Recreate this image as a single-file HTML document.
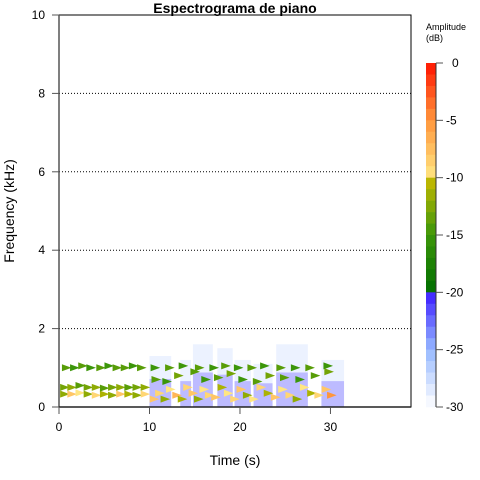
<!DOCTYPE html>
<html><head><meta charset="utf-8"><style>
body{margin:0;background:#fff}
svg{display:block;font-family:"Liberation Sans",sans-serif}
</style></head><body>
<svg id="c" width="480" height="480" viewBox="0 0 480 480">
<text x="235" y="13" text-anchor="middle" font-weight="bold" font-size="14">Espectrograma de piano</text>
<g id="grid"></g>
<g id="marks"></g>
<g id="axes"></g>
<text x="235" y="465" text-anchor="middle" font-size="14">Time (s)</text>
<text transform="translate(14,211) rotate(-90)" text-anchor="middle" font-size="14">Frequency (kHz)</text>
<text x="426" y="30" font-size="9">Amplitude</text>
<text x="426" y="41" font-size="9">(dB)</text>
<g id="cbar"></g>
</svg>
<script>
const xTicks=[0,10,20,30];
const yTicks=[0,2,4,6,8,10];
const cbTicks=[0,-5,-10,-15,-20,-25,-30];
// notes: onset time (s), frequency (kHz), amplitude (dB)
const noteTimes=[0.3,1.1,2.0,2.9,3.8,4.7,5.6,6.5,7.4,8.3,9.2, 0.3,1.1,2.0,2.9,3.8,4.7,5.6,6.5,7.4,8.3,9.2, 0.5,1.4,2.3,3.2,4.3,5.2,6.1,7.0,7.9,8.8, 10.2,10.8,11.4,12.0,12.7,13.3,13.9,14.5,15.1,15.7,16.3,17.0,17.7,18.4,19.1,19.8,20.5,21.2,22.0,22.8,23.6,24.4,25.2,26.0,26.8,27.6,28.4,29.2,29.8, 10.4,11.6,12.9,14.7,15.9,17.3,18.7,20.0,21.6,23.0,24.6,26.3,28.0,29.5, 10.3,11.9,13.4,15.2,16.8,18.1,19.5,21.0,22.4,24.2,25.8,27.4,29.4];
const noteFreqs=[0.33,0.33,0.36,0.33,0.3,0.33,0.3,0.33,0.33,0.3,0.33, 0.5,0.5,0.55,0.5,0.5,0.48,0.5,0.5,0.5,0.5,0.5, 1.0,1.0,1.05,1.0,1.0,1.05,1.0,1.0,1.05,1.0, 0.2,0.35,0.2,0.45,0.3,0.2,0.5,0.35,0.2,0.45,0.3,0.25,0.5,0.35,0.2,0.45,0.3,0.2,0.5,0.35,0.25,0.45,0.3,0.2,0.5,0.35,0.3,0.45,0.3, 0.7,0.65,0.8,0.9,0.7,0.75,0.85,0.7,0.65,0.8,0.75,0.7,0.8,0.9, 1.0,1.0,1.05,1.0,1.0,1.05,1.0,1.0,1.05,1.0,1.0,1.0,1.05];
const noteDb=[-12,-8,-10,-12,-9,-11,-12,-8,-11,-12,-9, -13,-12,-14,-13,-12,-14,-13,-12,-14,-13,-12, -14,-15,-14,-15,-14,-15,-14,-14,-15,-14, -8,-9,-12,-10,-7,-11,-9,-8,-12,-10,-9,-8,-11,-10,-9,-8,-12,-10,-9,-11,-8,-10,-9,-12,-10,-11,-9,-8,-5, -14,-15,-13,-14,-15,-14,-13,-15,-14,-13,-14,-15,-14,-13, -15,-14,-15,-14,-15,-14,-15,-14,-15,-14,-15,-14,-15];
// noisy background bursts: start (s), end (s), top frequency (kHz)
const burstStart=[10.0,13.4,14.8,17.5,19.4,21.5,24.0,29.0];
const burstEnd=[12.4,14.6,17.0,19.2,21.2,23.6,27.5,31.5];
const burstTop=[1.3,1.2,1.6,1.5,1.2,1.1,1.6,1.2];

const NS='http://www.w3.org/2000/svg';
const X0=59,X1=411,Y0=407,Y1=15,T0=0,T1=38.9;
const xs=t=>X0+(t-T0)/(T1-T0)*(X1-X0);
const ys=f=>Y0-f/10*(Y0-Y1);
const CB0=63,CB1=407;
const cy=d=>CB0+(-d)/30*(CB1-CB0);
function mk(tag,attrs,parent){const e=document.createElementNS(NS,tag);for(const k in attrs)e.setAttribute(k,attrs[k]);parent.appendChild(e);return e;}
function lerp(a,b,t){return a.map((v,i)=>Math.round(v+(b[i]-v)*t));}
function color(d){
  const stops=[[-30,[255,255,255]],[-25,[150,185,255]],[-20.01,[60,30,255]],[-20,[0,110,0]],[-15,[60,150,10]],[-10.01,[200,185,0]],[-10,[255,230,130]],[-5,[255,150,60]],[0,[255,20,0]]];
  for(let i=0;i<stops.length-1;i++){if(d<=stops[i+1][0]){const t=(d-stops[i][0])/(stops[i+1][0]-stops[i][0]);return 'rgb('+lerp(stops[i][1],stops[i+1][1],Math.max(0,Math.min(1,t))).join(',')+')';}}
  return 'rgb(255,20,0)';
}
const grid=document.getElementById('grid'),marks=document.getElementById('marks'),axes=document.getElementById('axes'),cbar=document.getElementById('cbar');
yTicks.filter(v=>v>0&&v<10).forEach(v=>{const l=mk('line',{x1:X0,x2:X1,y1:ys(v),y2:ys(v),stroke:'#000','stroke-dasharray':'1,2','stroke-width':1},grid);

});
burstStart.forEach((s,i)=>{
  const r=mk('rect',{x:xs(s),y:ys(burstTop[i]),width:xs(burstEnd[i])-xs(s),height:Y0-ys(burstTop[i]),fill:color(-27),opacity:0.3},marks);
  
  
  const r2=mk('rect',{x:xs(s),y:ys(burstTop[i]*0.55),width:xs(burstEnd[i])-xs(s),height:Y0-ys(burstTop[i]*0.55),fill:color(-21),opacity:0.3},marks);
  
  
});
noteTimes.forEach((t,i)=>{
  const x=xs(t),y=ys(noteFreqs[i]),d=noteDb[i];
  const g=mk('g',{},marks);
  
  
  const layers=[[-22,1.0],[-17,0.7],[d,0.4]];
  layers.forEach(([dd,s])=>{
    const w=8*s,h=3.5*s;
    mk('polygon',{points:`${x-w*0.2},${y-h} ${x+w},${y} ${x-w*0.2},${y+h}`,fill:color(Math.max(dd,d))},g);
  });
});
mk('rect',{x:X0,y:Y1,width:X1-X0,height:Y0-Y1,fill:'none',stroke:'#000','stroke-width':1},axes);
mk('line',{x1:X0,x2:X0,y1:Y1,y2:Y0,stroke:'#555','stroke-width':1.5},axes);
mk('line',{x1:X0,x2:X1,y1:Y0,y2:Y0,stroke:'#222','stroke-width':1.5},axes);
yTicks.forEach(v=>{mk('line',{x1:X0-7,x2:X0,y1:ys(v),y2:ys(v),stroke:'#555'},axes);
 const tx=mk('text',{x:X0-14,y:ys(v)+4,'text-anchor':'end','font-size':12},axes);tx.textContent=v;
 
 });
xTicks.forEach(v=>{mk('line',{x1:xs(v),x2:xs(v),y1:Y0,y2:Y0+7,stroke:'#555'},axes);
 const tx=mk('text',{x:xs(v),y:Y0+24,'text-anchor':'middle','font-size':12},axes);tx.textContent=v;
 
 });
for(let k=0;k<30;k++){const d=-k-0.5;
 const r=mk('rect',{x:426,y:cy(-k),width:10,height:(CB1-CB0)/30+0.3,fill:color(d)},cbar);
 
 }
mk('line',{x1:436,x2:436,y1:CB0,y2:CB1,stroke:'#333'},cbar);
cbTicks.forEach(v=>{mk('line',{x1:436,x2:443,y1:cy(v),y2:cy(v),stroke:'#555'},cbar);
 const tx=mk('text',{x:v<0?446:452,y:cy(v)+4,'font-size':12},cbar);tx.textContent=v;
 
 });
</script>
</body></html>
